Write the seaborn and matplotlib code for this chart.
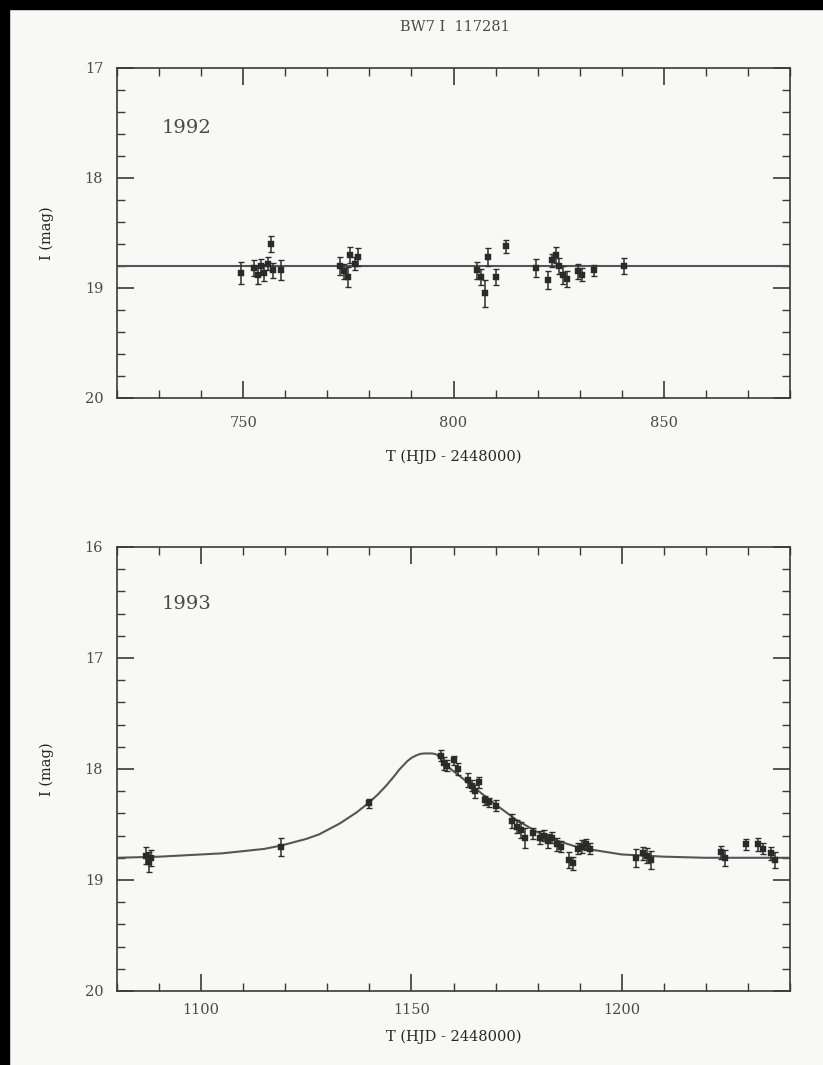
import numpy as np
import pandas as pd
import matplotlib
matplotlib.use("Agg")
import matplotlib.pyplot as plt
import seaborn as sns
from matplotlib.patches import Rectangle
from matplotlib.ticker import MultipleLocator

# ---------------- data ----------------
title_text = "BW7 I  117281"
xlabel_text = "T (HJD - 2448000)"
ylabel_text = "I (mag)"

# 1992 season
t92 = [749.5, 752.5, 753.5, 754.2, 755.0, 755.8, 756.6, 757.2, 759.0,
       773.0, 774.0, 774.8, 775.5, 776.5, 777.3,
       805.5, 806.5, 807.5, 808.3, 810.0, 812.5,
       819.5, 822.5, 823.5, 824.3, 825.0, 826.0, 827.0, 829.5, 830.5,
       833.5, 840.5]
m92 = [18.86, 18.82, 18.88, 18.80, 18.86, 18.78, 18.60, 18.84, 18.84,
       18.80, 18.85, 18.90, 18.70, 18.78, 18.72,
       18.84, 18.90, 19.05, 18.72, 18.90, 18.62,
       18.82, 18.93, 18.75, 18.70, 18.80, 18.88, 18.92, 18.85, 18.88,
       18.84, 18.80]
e92 = [0.10, 0.07, 0.08, 0.06, 0.08, 0.06, 0.07, 0.07, 0.09,
       0.08, 0.07, 0.09, 0.07, 0.06, 0.08,
       0.08, 0.07, 0.12, 0.08, 0.07, 0.06,
       0.08, 0.08, 0.06, 0.07, 0.07, 0.08, 0.07, 0.07, 0.06,
       0.05, 0.07]
baseline92_t = [720, 880]
baseline92_m = [18.80, 18.80]

# 1993 season
t93 = [1087.0, 1087.5, 1088.0, 1119.0, 1140.0,
       1157.0, 1157.8, 1158.5, 1160.0, 1161.0, 1163.5, 1164.3, 1165.0,
       1166.0, 1167.5, 1168.5, 1170.0, 1174.0, 1175.0, 1176.0, 1177.0,
       1179.0, 1180.5, 1181.5, 1182.5, 1183.5, 1184.5, 1185.5, 1187.5,
       1188.5, 1189.5, 1190.5, 1191.5, 1192.5,
       1203.5, 1205.0, 1206.0, 1207.0, 1223.5, 1224.5, 1229.5, 1232.5,
       1233.5, 1235.5, 1236.5]
m93 = [18.78, 18.84, 18.80, 18.70, 18.31,
       17.88, 17.95, 17.97, 17.92, 18.00, 18.10, 18.15, 18.20,
       18.12, 18.28, 18.30, 18.33, 18.47, 18.52, 18.55, 18.62,
       18.58, 18.62, 18.60, 18.65, 18.62, 18.68, 18.70, 18.82,
       18.85, 18.72, 18.70, 18.68, 18.72,
       18.80, 18.76, 18.78, 18.82, 18.75, 18.80, 18.68, 18.68,
       18.72, 18.76, 18.82]
e93 = [0.08, 0.09, 0.07, 0.08, 0.04,
       0.05, 0.06, 0.05, 0.04, 0.05, 0.06, 0.05, 0.06,
       0.05, 0.04, 0.04, 0.05, 0.06, 0.06, 0.07, 0.09,
       0.05, 0.06, 0.05, 0.06, 0.05, 0.06, 0.05, 0.07,
       0.06, 0.05, 0.06, 0.05, 0.05,
       0.08, 0.06, 0.07, 0.08, 0.06, 0.07, 0.05, 0.06,
       0.05, 0.06, 0.07]
# model light curve
curve_t = [1080, 1090, 1100, 1105, 1110, 1115, 1119, 1122, 1125, 1128,
           1130, 1133, 1135, 1137, 1140, 1142, 1144, 1146, 1147, 1148,
           1149, 1150, 1151, 1152, 1153, 1154, 1155, 1156, 1157, 1158,
           1160, 1163, 1166, 1170, 1175, 1180, 1185, 1190, 1195, 1200,
           1210, 1220, 1240]
curve_m = [18.80, 18.79, 18.77, 18.76, 18.74, 18.72, 18.69, 18.66, 18.63, 18.59,
           18.55, 18.49, 18.44, 18.39, 18.30, 18.23, 18.15, 18.06, 18.01, 17.97,
           17.93, 17.90, 17.88, 17.865, 17.86, 17.86, 17.86, 17.87, 17.91, 17.96,
           18.02, 18.11, 18.20, 18.32, 18.46, 18.57, 18.65, 18.71, 18.74, 18.77,
           18.79, 18.80, 18.80]

# ---------------- style ----------------
sns.set_theme(style="white")
plt.rcParams["font.family"] = ["DejaVu Serif"]
ink = "#3a3a3a"
txt = "#4a4a4a"
plt.rcParams.update({
    "axes.edgecolor": ink, "axes.linewidth": 1.2,
    "xtick.color": ink, "ytick.color": ink,
    "xtick.labelcolor": txt, "ytick.labelcolor": txt,
    "text.color": txt,
})

fig = plt.figure(figsize=(8.23, 10.65), dpi=100)
fig.patch.set_facecolor("#f8f8f7")

ax1 = fig.add_axes([0.1422, 0.6263, 0.8177, 0.3099])
ax2 = fig.add_axes([0.1422, 0.0695, 0.8177, 0.4169])

def style_axes(ax, xlim, ylim, xmaj, yticks, xpad, xlabpad):
    ax.set_facecolor("#f8f8f7")
    ax.set_xlim(*xlim)
    ax.set_ylim(*ylim)
    ax.xaxis.set_minor_locator(MultipleLocator(10))
    ax.yaxis.set_minor_locator(MultipleLocator(0.2))
    ax.set_xticks(xmaj)
    ax.set_yticks(yticks)
    ax.tick_params(which="both", direction="in", top=True, right=True,
                   bottom=True, left=True, labelsize=10.5)
    ax.tick_params(which="major", length=12, width=1.2)
    ax.tick_params(which="minor", length=6, width=1.0)
    ax.tick_params(axis="x", which="major", pad=xpad)
    ax.tick_params(axis="y", which="major", pad=10)
    for s in ax.spines.values():
        s.set_visible(True)
        s.set_color(ink)
    ax.set_xlabel(xlabel_text, fontsize=10.5, labelpad=xlabpad)
    ax.set_ylabel(ylabel_text, fontsize=10.5, labelpad=22)

def draw_points(ax, t, m, e):
    ax.errorbar(t, m, yerr=e, fmt="none", ecolor="#2e2e2e", elinewidth=1.1,
                capsize=2.2, capthick=1.0, zorder=3)
    df = pd.DataFrame({"t": t, "m": m})
    sns.scatterplot(data=df, x="t", y="m", ax=ax, marker="s", s=16,
                    color="#2a2a2a", edgecolor="#2a2a2a", linewidth=0.3,
                    zorder=4, legend=False)

# top panel (1992)
sns.lineplot(x=baseline92_t, y=baseline92_m, ax=ax1, color="#555555",
             linewidth=1.5, zorder=2)
draw_points(ax1, t92, m92, e92)
style_axes(ax1, (720, 880), (20, 17), [750, 800, 850], [17, 18, 19, 20],
           xpad=13, xlabpad=14)
ax1.text(730.5, 17.55, "1992", fontsize=14, color=txt, va="center", ha="left")

# bottom panel (1993)
sns.lineplot(x=curve_t, y=curve_m, ax=ax2, color="#555555",
             linewidth=1.5, zorder=2, sort=False)
draw_points(ax2, t93, m93, e93)
style_axes(ax2, (1080, 1240), (20, 16), [1100, 1150, 1200], [16, 17, 18, 19, 20],
           xpad=9, xlabpad=9)
ax2.text(1090.5, 16.51, "1993", fontsize=14, color=txt, va="center", ha="left")

fig.text(0.553, 1 - 27 / 1065, title_text, fontsize=10.5, ha="center",
         va="center", color=txt)

# black scan border (top and left)
fig.patches.append(Rectangle((0, 1 - 9 / 1065), 1, 9 / 1065,
                             transform=fig.transFigure, color="black", zorder=10))
fig.patches.append(Rectangle((0, 0), 9 / 823, 1,
                             transform=fig.transFigure, color="black", zorder=10))

fig.savefig("out.png", dpi=100, facecolor=fig.get_facecolor())
